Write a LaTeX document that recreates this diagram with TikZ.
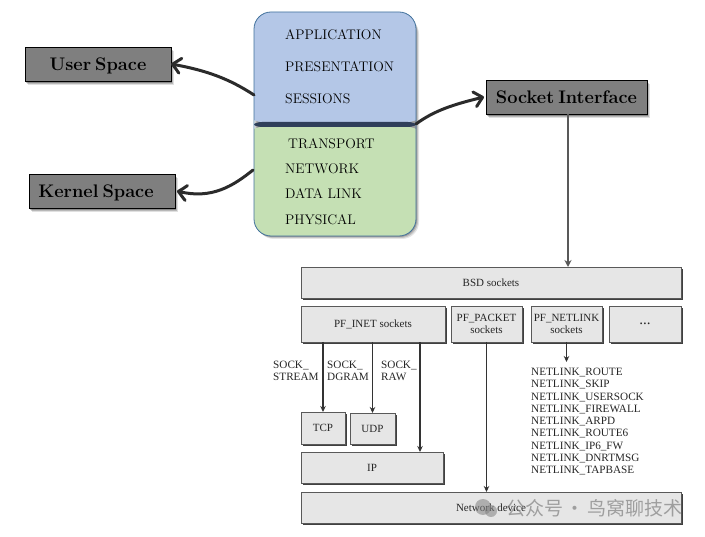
\documentclass[tikz,border=0pt]{standalone}
\usepackage{fontspec}
\newfontfamily\timesf{Liberation Serif}
\newfontfamily\cjkf{Noto Sans CJK SC}
\usetikzlibrary{arrows.meta,bending}
\definecolor{headgray}{HTML}{7F7F7F}
\definecolor{paleblue}{HTML}{B4C7E7}
\definecolor{palegreen}{HTML}{C5E0B4}
\definecolor{divider}{HTML}{2F3F5A}
\definecolor{osiedge}{HTML}{41719C}
\definecolor{boxfill}{HTML}{E6E6E6}
\definecolor{inkdark}{HTML}{2B2B2B}
\newcommand{\headtext}[1]{\raisebox{-2pt}[12.5pt][3.5pt]{#1}}
\tikzset{
  softshadow/.style={
    preaction={fill=black,opacity=.12,transform canvas={xshift=#1,yshift=-#1-1pt}},
    preaction={fill=black,opacity=.18,transform canvas={xshift=#1-1pt,yshift=-#1}},
    preaction={fill=black,opacity=.25,transform canvas={xshift=#1-2pt,yshift=-#1+1pt}}},
  headbox/.style={draw=black,line width=.8pt,fill=headgray,softshadow=3pt,inner sep=0pt,outer sep=0pt,anchor=north west,
    font=\fontsize{18.2}{20}\selectfont\bfseries},
  netbox/.style={draw=black!65,line width=.6pt,fill=boxfill,inner sep=0pt,outer sep=0pt,anchor=north west,align=center,
    preaction={fill=black!75,transform canvas={xshift=1.6pt,yshift=-1.6pt}},
    font=\timesf\fontsize{11}{12.5}\selectfont,text=black!85},
  osilabel/.style={anchor=west,inner sep=0pt,font=\fontsize{13.9}{15}\selectfont},
  netlabel/.style={anchor=north west,inner sep=0pt,align=left,font=\timesf\fontsize{11.2}{12.25}\selectfont,text=black!85},
  bigarrow/.style={line width=3pt,color=inkdark,line cap=round,-{Straight Barb[length=8pt,width=15pt,line width=3pt,round,bend]}},
  thinarrow/.style={line width=1.3pt,color=black!80,-{Stealth[length=6pt,width=5.5pt]}},
  greyarrow/.style={line width=1.6pt,color=black!65,-{Stealth[length=7pt,width=7pt]}},
}
\begin{document}
\begin{tikzpicture}[x=1pt,y=-1pt]
\useasboundingbox (0,0) rectangle (705,537);
% soft shadow of the OSI stack
\fill[black,opacity=.10,rounded corners=17pt] (257,17) rectangle (419,239);
\fill[black,opacity=.15,rounded corners=17pt] (256,16) rectangle (418,238);
\fill[black,opacity=.20,rounded corners=17pt] (255,15) rectangle (417,237);
% OSI stack (path picture coordinates are relative to the node centre at y=124)
\node[draw=osiedge,line width=.8pt,rounded corners=17pt,anchor=north west,minimum width=162pt,minimum height=224pt,inner sep=0pt,outer sep=0pt,
  path picture={
    \fill[paleblue] (-90,-120) rectangle (90,-2);
    \fill[palegreen] (-90,3) rectangle (90,120);
    \fill[divider] (-90,-2) rectangle (90,3);
  }] (osi) at (254,12) {};
\node[osilabel] (l1) at (285,35) {APPLICATION};
\node[osilabel] (l2) at (285,67) {PRESENTATION};
\node[osilabel] (l3) at (285,99) {SESSIONS};
\node[osilabel] (l4) at (288,144) {TRANSPORT};
\node[osilabel] (l5) at (285,169) {NETWORK};
\node[osilabel] (l6) at (285,194) {DATA LINK};
\node[osilabel] (l7) at (285,220) {PHYSICAL};
% heading boxes
\node[headbox,minimum width=146pt,minimum height=34pt] (user) at (25,47) {\headtext{User\hspace{.22em}Space}};
\node[headbox,minimum width=146pt,minimum height=34pt] (kernel) at (29,174) {\headtext{Kernel\hspace{.22em}Space}\hspace*{12pt}};
\node[headbox,minimum width=161pt,minimum height=34pt] (socket) at (486,80) {\headtext{Socket\hspace{.22em}Interface}};
\coordinate (osiA) at (254,95);
\coordinate (osiB) at (253,170);
\coordinate (osiC) at (416,124);
\draw[bigarrow] (osiA) .. controls (228,78) and (205,70) .. (user.east);
\draw[bigarrow] (osiB) .. controls (232,187) and (210,200) .. ([xshift=2pt]kernel.east);
\draw[bigarrow] (osiC) .. controls (435,110) and (455,104) .. ([xshift=-2pt]socket.west);
% network stack
\node[netbox,minimum width=380pt,minimum height=31pt] (bsd) at (301,267) {BSD sockets};
\node[netbox,minimum width=144pt,minimum height=36pt] (inet) at (301,306) {PF\_INET sockets};
\node[netbox,minimum width=71pt,minimum height=36pt] (packet) at (451,306) {PF\_PACKET\\sockets};
\node[netbox,minimum width=71pt,minimum height=36pt] (netlink) at (531,306) {PF\_NETLINK\\sockets};
\node[netbox,minimum width=72pt,minimum height=36pt,font=\timesf\fontsize{15}{15}\selectfont] (more) at (609,306) {...};
\node[netbox,minimum width=44pt,minimum height=32pt] (tcp) at (301,412) {TCP};
\node[netbox,minimum width=45pt,minimum height=31pt] (udp) at (350,413) {UDP};
\node[netbox,minimum width=142pt,minimum height=31pt] (ip) at (301,452) {IP};
\node[netbox,minimum width=380pt,minimum height=31pt] (netdev) at (301,492) {Network device};
\node[netlabel] (stream) at (273,361) {SOCK\_\\STREAM};
\node[netlabel] (dgram) at (327,361) {SOCK\_\\DGRAM};
\node[netlabel] (raw) at (381,361) {SOCK\_\\RAW};
\node[netlabel] (nllist) at (531,368) {NETLINK\_ROUTE\\NETLINK\_SKIP\\NETLINK\_USERSOCK\\NETLINK\_FIREWALL\\NETLINK\_ARPD\\NETLINK\_ROUTE6\\NETLINK\_IP6\_FW\\NETLINK\_DNRTMSG\\NETLINK\_TAPBASE};
\coordinate (rawx) at (420,400);
\coordinate (nlend) at (566.5,362);
\draw[greyarrow] ([xshift=1.5pt]socket.south) -- ([xshift=1.5pt]socket.south |- bsd.north);
\draw[thinarrow] (inet.south -| tcp.north) -- (tcp.north);
\draw[thinarrow] (inet.south -| udp.north) -- (udp.north);
\draw[thinarrow] (inet.south -| rawx) -- (ip.north -| rawx);
\draw[thinarrow] (packet.south) -- (packet.south |- netdev.north);
\draw[thinarrow] (netlink.south) -- (nlend);
% watermark
\fill[gray,opacity=.55] (483,507) circle (8pt);
\fill[gray,opacity=.55] (491,511) circle (6pt);
\node[anchor=west,inner sep=0pt,text=gray,opacity=.7,font=\cjkf\fontsize{19}{20}\selectfont] (wm) at (506,508) {公众号\hspace{2.5pt}·\hspace{2.5pt}鸟窝聊技术};
\end{tikzpicture}
\end{document}
